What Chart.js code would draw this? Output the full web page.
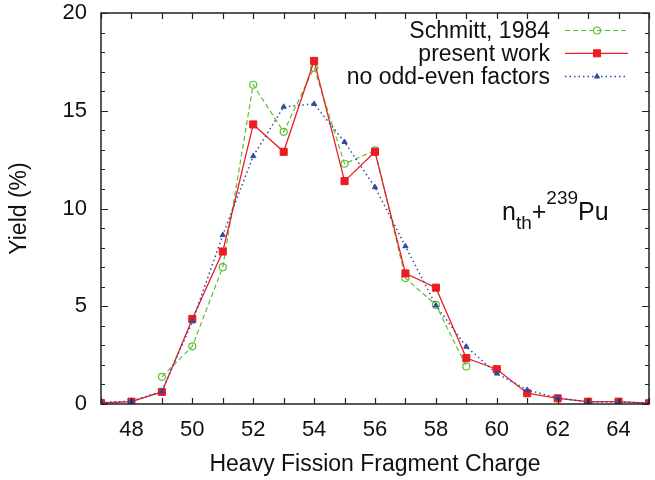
<!DOCTYPE html>
<html>
<head>
<meta charset="utf-8">
<script src="https://cdn.jsdelivr.net/npm/chart.js@4"></script>
<style>
  html, body { margin: 0; padding: 0; background: #fff; }
  #wrap { width: 655px; height: 480px; }
</style>
</head>
<body>
<div id="wrap"><canvas id="yieldChart" width="655" height="480"></canvas></div>
<script>
// charge Z of the heavy fragment
const chargeZ = [47, 48, 49, 50, 51, 52, 53, 54, 55, 56, 57, 58, 59, 60, 61, 62, 63, 64, 65]
const presentYield = [0.05, 0.12, 0.62, 4.35, 7.8, 14.3, 12.9, 17.55, 11.4, 12.9, 6.68, 5.95, 2.35, 1.78, 0.55, 0.29, 0.12, 0.12, 0.04]
const noOddEvenYield = [0.07, 0.15, 0.65, 4.22, 8.64, 12.68, 15.2, 15.35, 13.4, 11.09, 8.07, 5.04, 2.93, 1.56, 0.72, 0.31, 0.1, 0.1, 0.05]

// Schmitt 1984 only covers Z = 49..59
const schmittZ = [49, 50, 51, 52, 53, 54, 55, 56, 57, 58, 59]
const schmittYield = [1.39, 2.95, 7.0, 16.33, 13.92, 17.2, 12.29, 12.97, 6.44, 5.07, 1.92]

const legendLabels = ['Schmitt, 1984', 'present work', 'no odd-even factors']

const FONT = '"Liberation Sans", Arial, Helvetica, sans-serif'
const green = '#5cbf33'
const red = '#ec1c24'
const blue = '#2e4d9e'

function pairs(xs, ys) {
    return xs.map((x, i) => ({ x: x, y: ys[i] }))
}

// gnuplot-like box: frame on all four sides with inward ticks
const frameBox = {
    id: 'frameBox',
    afterDraw(chart) {
        const { ctx, chartArea: a, scales } = chart
        const xs = scales.x, ys = scales.y
        ctx.save()
        ctx.strokeStyle = '#222'
        ctx.lineWidth = 1.5
        ctx.strokeRect(a.left, a.top, a.right - a.left, a.bottom - a.top)
        ctx.lineWidth = 1.2
        ctx.beginPath()
        for (let v = 47; v <= 65; v++) {
            const px = Math.round(xs.getPixelForValue(v)) + 0.5
            ctx.moveTo(px, a.bottom); ctx.lineTo(px, a.bottom - 6)
            ctx.moveTo(px, a.top); ctx.lineTo(px, a.top + 6)
        }
        for (let v = 0; v <= 20; v++) {
            const py = Math.round(ys.getPixelForValue(v)) + 0.5
            const len = v % 5 === 0 ? 7 : 4
            ctx.moveTo(a.left, py); ctx.lineTo(a.left + len, py)
            ctx.moveTo(a.right, py); ctx.lineTo(a.right - len, py)
        }
        ctx.stroke()
        ctx.restore()
    }
}

// key in the top right corner: text first, then the line sample
const keyBox = {
    id: 'keyBox',
    afterDatasetsDraw(chart) {
        const ctx = chart.ctx
        const rows = [30.5, 53.3, 76.5]
        const textRight = 550, lineL = 565, lineR = 628
        ctx.save()
        ctx.font = '23px ' + FONT
        ctx.textAlign = 'right'
        ctx.textBaseline = 'middle'
        legendLabels.forEach((label, i) => {
            const ds = chart.data.datasets[i]
            const y = rows[i]
            ctx.fillStyle = '#111'
            ctx.fillText(label, textRight, y + 1)
            ctx.save()
            ctx.strokeStyle = ds.borderColor
            ctx.lineWidth = ds.borderWidth
            ctx.setLineDash(ds.borderDash || [])
            ctx.beginPath()
            ctx.moveTo(lineL, y); ctx.lineTo(lineR, y)
            ctx.stroke()
            ctx.setLineDash([])
            ctx.fillStyle = ds.pointBackgroundColor
            ctx.strokeStyle = ds.pointBorderColor
            ctx.lineWidth = ds.pointBorderWidth
            Chart.helpers.drawPoint(ctx, {
                pointStyle: ds.pointStyle,
                radius: ds.pointRadius,
                borderWidth: ds.pointBorderWidth,
                rotation: 0
            }, (lineL + lineR) / 2 + 0.5, y)
            ctx.restore()
        })
        ctx.restore()
    }
}

// reaction label n_th + 239Pu
const reactionLabel = {
    id: 'reactionLabel',
    afterDraw(chart) {
        const ctx = chart.ctx
        const big = '25px ' + FONT, small = '19px ' + FONT
        let x = 502
        const base = 220
        ctx.save()
        ctx.fillStyle = '#111'
        ctx.textBaseline = 'alphabetic'
        const put = (txt, font, dy) => {
            ctx.font = font
            ctx.fillText(txt, x, base + dy)
            x += ctx.measureText(txt).width
        }
        put('n', big, 0)
        put('th', small, 9)
        put('+', big, 0)
        put('239', small, -16)
        put('Pu', big, 0)
        ctx.restore()
    }
}

const chart = new Chart(document.getElementById('yieldChart'), {
    type: 'line',
    data: {
        datasets: [{
            label: legendLabels[0],
            data: pairs(schmittZ, schmittYield),
            borderColor: green,
            backgroundColor: 'rgba(0,0,0,0)',
            pointBorderColor: green,
            pointBackgroundColor: 'rgba(0,0,0,0)',
            borderWidth: 1.2,
            borderDash: [5, 3],
            pointStyle: 'circle',
            pointRadius: 3.5,
            pointBorderWidth: 1.2,
            order: 3
        }, {
            label: legendLabels[1],
            data: pairs(chargeZ, presentYield),
            borderColor: red,
            backgroundColor: red,
            pointBackgroundColor: red,
            pointBorderColor: red,
            borderWidth: 1.3,
            pointStyle: 'rect',
            pointRadius: 5,
            pointBorderWidth: 1,
            order: 2
        }, {
            label: legendLabels[2],
            data: pairs(chargeZ, noOddEvenYield),
            borderColor: blue,
            backgroundColor: blue,
            pointBackgroundColor: blue,
            pointBorderColor: blue,
            borderWidth: 1.5,
            borderDash: [1.5, 3],
            pointStyle: 'triangle',
            pointRadius: 3,
            pointBorderWidth: 1,
            order: 1
        }]
    },
    options: {
        responsive: false,
        animation: false,
        events: [],
        layout: { padding: { top: 13, right: 1, left: 0, bottom: 0 } },
        plugins: {
            legend: { display: false },
            tooltip: { enabled: false }
        },
        scales: {
            x: {
                type: 'linear',
                min: 47,
                max: 65,
                grid: { display: false, drawTicks: false },
                border: { display: false },
                ticks: {
                    stepSize: 1,
                    autoSkip: false,
                    maxRotation: 0,
                    padding: 13,
                    color: '#111',
                    font: { family: FONT, size: 22 },
                    callback: v => (v % 2 === 0 ? String(v) : '')
                },
                title: {
                    display: true,
                    text: 'Heavy Fission Fragment Charge',
                    color: '#111',
                    font: { family: FONT, size: 23 },
                    padding: { top: 0, bottom: 2 }
                },
                afterFit: s => {
                    s.height = 76
                    s.paddingLeft = 0
                    s.paddingRight = 0
                }
            },
            y: {
                min: 0,
                max: 20,
                grid: { display: false, drawTicks: false },
                border: { display: false },
                ticks: {
                    stepSize: 5,
                    padding: 14,
                    color: '#111',
                    font: { family: FONT, size: 22 }
                },
                title: {
                    display: true,
                    text: 'Yield (%)',
                    color: '#111',
                    font: { family: FONT, size: 23 },
                    padding: { top: 6, bottom: 0 }
                },
                afterFit: s => {
                    s.width = 101
                    s.paddingTop = 0
                    s.paddingBottom = 0
                }
            }
        }
    },
    plugins: [frameBox, keyBox, reactionLabel]
})
</script>
</body>
</html>
